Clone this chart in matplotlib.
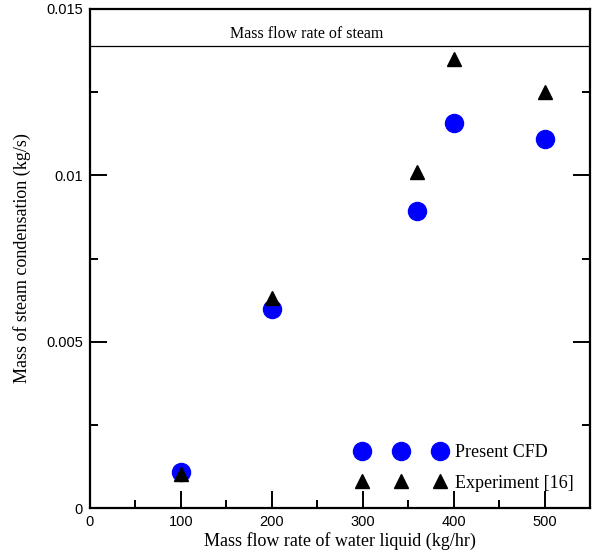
import matplotlib
matplotlib.use("Agg")
import matplotlib.pyplot as plt
from matplotlib.ticker import MultipleLocator, FixedFormatter, FixedLocator

# data
cfd_x = [100, 200, 360, 400, 500]
cfd_y = [0.00108, 0.00598, 0.00892, 0.01156, 0.01108]
exp_x = [100, 200, 360, 400, 500]
exp_y = [0.00102, 0.00630, 0.01010, 0.01351, 0.01252]
steam_rate = 0.0139

xticks = [0, 100, 200, 300, 400, 500]
yticks = [0, 0.005, 0.01, 0.015]
ytick_labels = ['0', '0.005', '0.01', '0.015']

serif = ['Liberation Serif', 'DejaVu Serif']
sans = ['Liberation Sans', 'DejaVu Sans']

fig = plt.figure(figsize=(5.92, 5.56), dpi=100)
ax = fig.add_axes([90/592, 1 - 508/556, 500/592, 499/556])

ax.plot(cfd_x, cfd_y, 'o', color='#0000ff', ms=13, label='Present CFD')
ax.plot(exp_x, exp_y, '^', color='black', ms=10.5, label='Experiment [16]')
ax.axhline(steam_rate, color='black', lw=0.9)
ax.text(238, steam_rate + 0.00012, 'Mass flow rate of steam', ha='center', va='bottom',
        family=serif, fontsize=11.5)

ax.set_xlim(0, 550)
ax.set_ylim(0, 0.015)
ax.xaxis.set_major_locator(FixedLocator(xticks))
ax.xaxis.set_minor_locator(MultipleLocator(50))
ax.yaxis.set_major_locator(FixedLocator(yticks))
ax.yaxis.set_major_formatter(FixedFormatter(ytick_labels))
ax.yaxis.set_minor_locator(MultipleLocator(0.0025))
ax.tick_params(which='both', direction='in', left=True, right=True, top=False, bottom=True,
               width=1.4)
ax.tick_params(which='major', length=12, labelsize=10.5, pad=5)
ax.tick_params(which='minor', length=6)
for lab in ax.get_xticklabels() + ax.get_yticklabels():
    lab.set_family(sans)
for sp in ax.spines.values():
    sp.set_linewidth(1.6)

ax.set_xlabel('Mass flow rate of water liquid (kg/hr)', family=serif, fontsize=13, labelpad=2)
ax.set_ylabel('Mass of steam condensation (kg/s)', family=serif, fontsize=13, labelpad=11)

leg = ax.legend(loc='lower right', bbox_to_anchor=(1.0, 0.0), numpoints=3, frameon=False,
                handlelength=4.9, handletextpad=0.55, labelspacing=0.75,
                prop={'family': serif, 'size': 13})

fig.savefig('out.png', dpi=100)
